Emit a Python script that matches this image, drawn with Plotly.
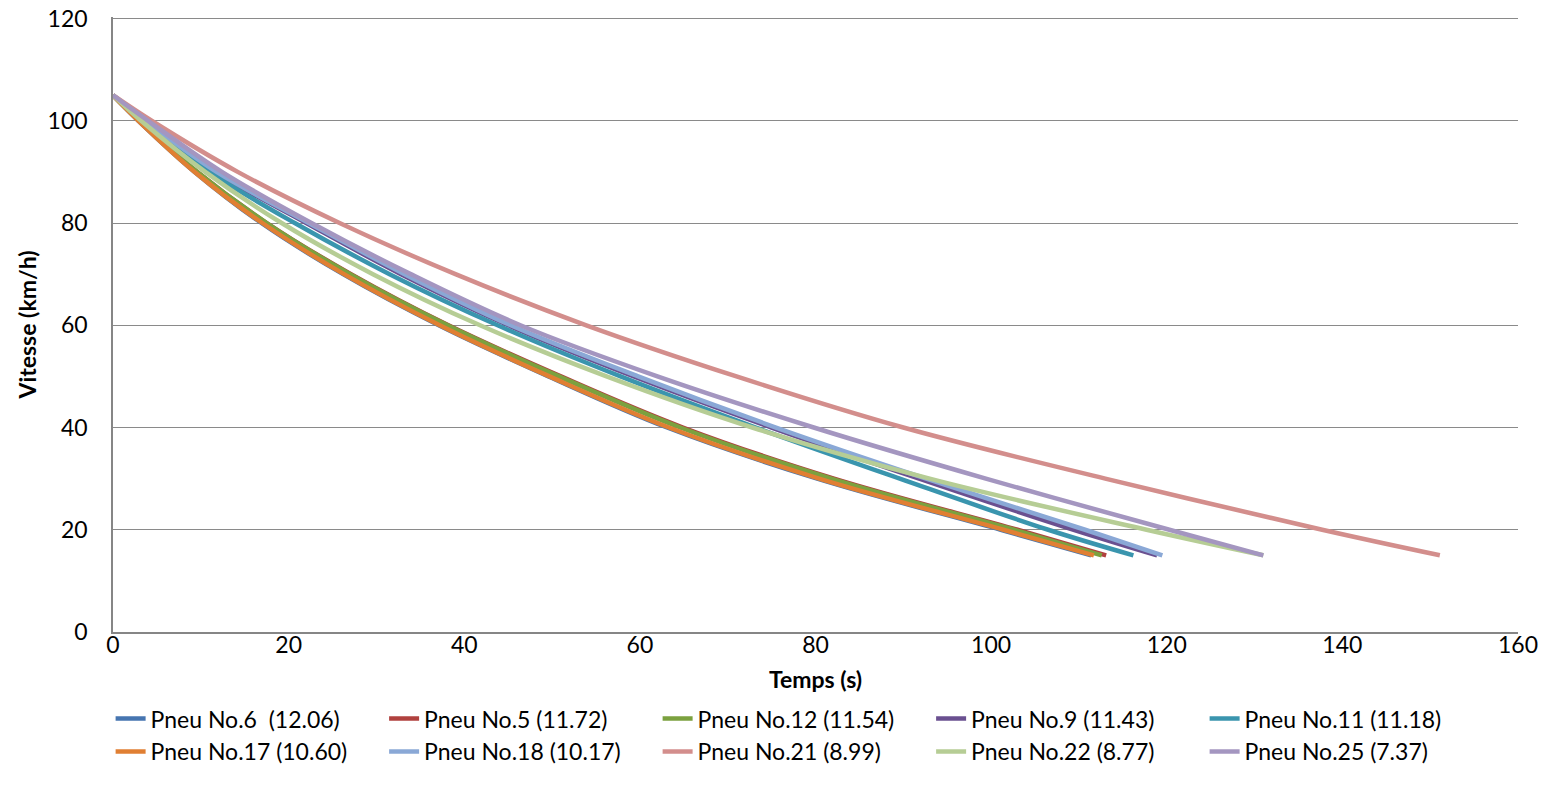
import plotly.graph_objects as go

# Speed levels (km/h) at which the time of each curve was read
SPEED = [105, 100, 90, 80, 70, 60, 50, 40, 30, 20, 15]

# Time (s) at which each tyre reaches the speed levels above
T_NO6 = [0, 2.9, 9.3, 16.9, 26.2, 37.1, 49.6, 63.1, 80.2, 101.1, 111.4]
T_NO5 = [0, 3.0, 9.6, 17.5, 27.1, 38.2, 51.0, 64.9, 82.1, 103.0, 113.1]
T_NO12 = [0, 3.0, 9.6, 17.5, 27.0, 38.1, 50.8, 64.6, 81.8, 102.6, 112.6]
T_NO9 = [0, 3.7, 11.6, 22.0, 32.8, 45.0, 59.3, 75.0, 91.8, 109.4, 118.9]
T_NO11 = [0, 3.4, 11.0, 20.7, 31.5, 43.8, 57.8, 73.2, 89.6, 106.5, 116.2]
T_NO17 = [0, 2.9, 9.3, 17.0, 26.3, 37.2, 49.7, 63.3, 80.4, 101.4, 111.7]
T_NO18 = [0, 3.7, 11.8, 22.3, 33.2, 45.3, 59.8, 75.5, 92.6, 110.7, 119.5]
T_NO21 = [0, 4.4, 14.2, 25.8, 39.0, 53.9, 71.0, 90.0, 113.0, 137.7, 151.1]
T_NO22 = [0, 3.2, 10.5, 19.2, 29.6, 41.8, 56.2, 72.8, 93.0, 117.7, 131.0]
T_NO25 = [0, 4.0, 12.4, 22.6, 33.9, 46.4, 62.0, 79.8, 99.4, 120.3, 131.0]

NAMES = [
    "Pneu No.6  (12.06)", "Pneu No.5 (11.72)", "Pneu No.12 (11.54)",
    "Pneu No.9 (11.43)", "Pneu No.11 (11.18)", "Pneu No.17 (10.60)",
    "Pneu No.18 (10.17)", "Pneu No.21 (8.99)", "Pneu No.22 (8.77)",
    "Pneu No.25 (7.37)",
]
TIMES = [T_NO6, T_NO5, T_NO12, T_NO9, T_NO11, T_NO17, T_NO18, T_NO21, T_NO22, T_NO25]
COLORS = ["#4675B0", "#B0413E", "#7BA13F", "#6A5090", "#3A95AE",
          "#E07F33", "#8AA8D6", "#D38E8C", "#B6CD95", "#A496C0"]

X_TICKS = [0, 20, 40, 60, 80, 100, 120, 140, 160]
Y_TICKS = [0, 20, 40, 60, 80, 100, 120]

FONT = "Lato, Carlito, Calibri, 'Noto Sans', sans-serif"
FS = 23

fig = go.Figure()
for name, t, c in zip(NAMES, TIMES, COLORS):
    fig.add_trace(go.Scatter(
        x=t, y=SPEED, name=name, mode="lines",
        line=dict(color=c, width=4.5, shape="spline", smoothing=1.0),
    ))

fig.update_layout(
    width=1545, height=812,
    margin=dict(l=113, r=27, t=16.5, b=180),
    paper_bgcolor="white", plot_bgcolor="white",
    font=dict(family=FONT, size=FS, color="#000000"),
    showlegend=True,
    legend=dict(
        orientation="h", x=-0.0017, xanchor="left", y=-0.1059, yanchor="top",
        entrywidth=228.5, entrywidthmode="pixels",
        font=dict(family=FONT, size=FS, color="#000000"),
        tracegroupgap=0, itemwidth=30,
    ),
)
fig.update_xaxes(
    range=[0, 160], tickvals=X_TICKS, showgrid=False, zeroline=False,
    showline=True, linecolor="#868686", linewidth=1.5, ticks="",
    automargin=False, ticklabelstandoff=-8, ticklabeloverflow="allow",
    tickfont=dict(family=FONT, size=FS),
    title=dict(text="<b>Temps (s)</b>", font=dict(family=FONT, size=FS), standoff=15),
)
fig.update_yaxes(
    range=[0, 120.3], tickvals=Y_TICKS, showgrid=True, gridcolor="#8a8a8a", gridwidth=1.3,
    zeroline=False, showline=True, linecolor="#868686", linewidth=1.5, ticks="",
    automargin=False, ticklabelstandoff=19, ticklabeloverflow="allow",
    tickfont=dict(family=FONT, size=FS),
    title=dict(text="<b>Vitesse (km/h)</b>", font=dict(family=FONT, size=FS), standoff=5),
)

fig.write_html(
    "out.html",
    config={"displayModeBar": False},
    post_script="document.body.style.margin='0';",
)
